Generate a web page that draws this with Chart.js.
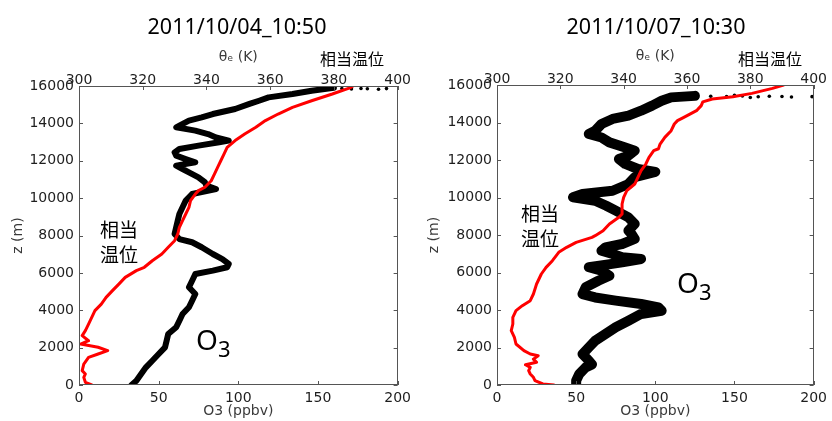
<!DOCTYPE html>
<html>
<head>
<meta charset="utf-8">
<script src="https://cdn.jsdelivr.net/npm/chart.js@4.4.1/dist/chart.umd.min.js"></script>
<style>
  html, body { margin: 0; padding: 0; background: #fff; }
  body { width: 832px; height: 421px; position: relative; overflow: hidden; }
  .panel { position: absolute; top: 0; width: 416px; height: 421px; }
  .panel canvas { filter: blur(0.4px); }
  .t { position: absolute; white-space: nowrap; color: #000; line-height: 1; }
  .c { transform: translate(-50%, -50%); }
  .title { font-family: "Noto Sans", "Open Sans", sans-serif; font-size: 21.5px; }
  .cjk { font-family: "Noto Sans CJK JP", sans-serif; }
  .o3 { font-family: "Noto Sans", "Open Sans", sans-serif; font-size: 28px; }
  .o3 span { font-size: 22px; position: relative; top: 7px; }
</style>
</head>
<body>

<div class="panel" style="left:0"><canvas id="chartA" width="416" height="421"></canvas></div>
<div class="panel" style="left:416px"><canvas id="chartB" width="416" height="421"></canvas></div>

<div class="t c title" id="titleA" style="left:237px;top:26px"></div>
<div class="t c title" id="titleB" style="left:656px;top:26px"></div>
<div class="t c cjk" style="left:352px;top:58px;font-size:16px">相当温位</div>
<div class="t c cjk" style="left:770px;top:58px;font-size:16px">相当温位</div>

<div class="t cjk" style="left:100px;top:216px;font-size:19px;line-height:25px">相当<br>温位</div>
<div class="t cjk" style="left:521px;top:200px;font-size:19px;line-height:25px">相当<br>温位</div>
<div class="t o3" style="left:196px;top:325px">O<span>3</span></div>
<div class="t o3" style="left:677px;top:268px">O<span>3</span></div>

<script>
// Panel headings
const panelTitles = ['2011/10/04_10:50', '2011/10/07_10:30'];

// Axis tick values
const o3Ticks = [0, 50, 100, 150, 200];
const thetaTicks = [300, 320, 340, 360, 380, 400];
const zTicks = [0, 2000, 4000, 6000, 8000, 10000, 12000, 14000, 16000];

// 2011/10/04 10:50 — ozone profile (height m, ppbv)
const zO3A = [0,230,590,945,1300,1660,2016,2370,2730,3090,3440,3800,4160,4510,4870,5230,5580,5940,6120,6300,6480,6740,7010,7370,7640,7810,8080,8440,8800,9150,9510,9870,10220,10490,10670,10850,11110,11380,11560,11740,11920,12090,12270,12450,12630,12810,12990,13080,13250,13430,13610,13790,13880,14150,14320,14500,14770,15040,15210,15390,15570,15750,15900];
const o3A = [33,36,39,42,46,50,54,55,56,61,63,65,69,71,73,69,71,73,84,93,94,90,84,77,71,63,60,61,62,63,65,67,71,86,80,79,75,69,65,61,73,67,61,60,63,75,88,94,86,81,73,61,63,69,77,84,98,107,113,119,134,146,160];
// stray ozone samples near the top of the sounding
const zO3StrayA = [15860,15840,15870,15850,15830,15860];
const o3StrayA = [165,171,177,181,188,193];
// equivalent potential temperature (height m, K)
const zThetaA = [0,143,410,590,770,1120,1480,1660,1840,2020,2190,2370,2640,2910,3260,3620,3980,4330,4690,5050,5400,5760,6120,6300,6650,7010,7370,7720,8080,8440,8800,9150,9510,9870,10220,10400,10580,10930,11290,11650,12000,12360,12720,13080,13430,13790,14150,14500,14860,15210,15570,15900,16000];
const thetaA = [304,302,301.5,302,301,301.5,303,306,309,306,300.5,303,301,302,303,304,305,307,308.5,310.5,312.5,314.5,318,320.5,323,326,328,330,331,331.5,332.5,333.5,334.5,335,336.5,337.5,339.5,341.5,342.5,343.5,344.5,345.5,346.5,349,352,355.5,358.5,362.5,367,373,379.5,385,386];

// 2011/10/07 10:30 — ozone profile
const zO3B = [0,230,590,940,1100,1300,1650,2010,2360,2720,3080,3430,3790,3960,4140,4320,4500,4670,4850,5210,5560,5830,6100,6280,6540,6720,6810,6990,7160,7340,7520,7790,8050,8230,8590,8940,9300,9560,9830,10010,10190,10360,10720,11080,11370,11520,11790,12050,12230,12500,12670,12940,13200,13390,13560,13920,14190,14370,14630,14900,15160,15340,15420];
const o3B = [50,50,52,56,60,58,54,58,62,68.5,75,83,91,104,102,91,75,62,54,56,64,71,66,58,79,91,79,73,66,68.5,79,87,85,83,87,83,75,69,62,48,54,73,83,87,100,89,81,77,83,87,81,71,66,58,62,66,73,83,91,98,104,110,125];
const zO3StrayB = [15400,15380,15420,15370,15400,15390,15360,15380,15450,15330];
const o3StrayB = [135,145,155,165,172,180,186,199,150,160];
// equivalent potential temperature
const zThetaB = [0,53,231,409,587,764,942,1080,1209,1380,1564,1653,1831,2186,2542,2897,3253,3608,3964,4231,4497,4853,5386,5920,6275,6631,7075,7342,7608,7875,7964,8231,8586,8942,9120,9297,9653,10008,10364,10719,11075,11430,11786,12142,12497,12600,12853,13208,13564,13919,14100,14275,14631,14900,15100,15250,15375,15553,15820,16000];
const thetaB = [318,314.5,312,311.5,310.5,310,310.5,309,312.5,311.5,313,310.5,308.5,306,305.5,304.5,305,305,306,308,310.5,311.5,312.5,314,315.5,317.5,319.5,322,325,330,331,333.5,335.5,338.5,339.5,339.5,339.5,340,341,343.5,344.5,345.5,347,348,349.5,351,351.5,353,355,356,357,359,363,364.5,365,368,374.5,380.5,387,390.5];

document.getElementById('titleA').textContent = panelTitles[0];
document.getElementById('titleB').textContent = panelTitles[1];

const pairs = (xs, zs) => zs.map((z, i) => ({ x: xs[i], y: z }));
const fixedTicks = vals => s => { s.ticks = vals.map(v => ({ value: v })); };

// Frame around the plot area with short inward tick marks on every side
const frameTicks = {
  id: 'frameTicks',
  afterDatasetsDraw(chart) {
    const { ctx, chartArea: a, scales } = chart;
    const L = 4;
    ctx.save();
    ctx.strokeStyle = '#555';
    ctx.lineWidth = 1;
    ctx.beginPath();
    scales.x.ticks.forEach(t => {
      const p = Math.round(scales.x.getPixelForValue(t.value)) + 0.5;
      ctx.moveTo(p, a.bottom); ctx.lineTo(p, a.bottom - L);
    });
    scales.xt.ticks.forEach(t => {
      const p = Math.round(scales.xt.getPixelForValue(t.value)) + 0.5;
      ctx.moveTo(p, a.top); ctx.lineTo(p, a.top + L);
    });
    scales.y.ticks.forEach(t => {
      const p = Math.round(scales.y.getPixelForValue(t.value)) + 0.5;
      ctx.moveTo(a.left, p); ctx.lineTo(a.left + L, p);
      ctx.moveTo(a.right, p); ctx.lineTo(a.right - L, p);
    });
    ctx.stroke();
    ctx.strokeRect(Math.round(a.left) + 0.5, Math.round(a.top) + 0.5,
                   Math.round(a.right - a.left) - 1, Math.round(a.bottom - a.top) - 1);
    ctx.restore();
  }
};

const tickFont = { family: 'DejaVu Sans', size: 14 };
const titleFont = { family: 'DejaVu Sans', size: 14 };

function makeProfile(id, p) {
  return new Chart(document.getElementById(id), {
    type: 'line',
    data: {
      datasets: [
        {
          data: pairs(p.theta, p.zTheta), xAxisID: 'xt', yAxisID: 'y',
          borderColor: '#ff0000', borderWidth: 3, pointRadius: 0,
          borderJoinStyle: 'round', borderCapStyle: 'round', order: 0
        },
        {
          data: pairs(p.o3, p.zO3), xAxisID: 'x', yAxisID: 'y',
          borderColor: '#000', borderWidth: p.band, pointRadius: 0,
          borderJoinStyle: 'round', borderCapStyle: 'round', order: 1
        },
        {
          data: pairs(p.o3Stray, p.zStray), xAxisID: 'x', yAxisID: 'y',
          showLine: false, pointRadius: 1.8, pointBackgroundColor: '#000',
          pointBorderWidth: 0, order: 2
        }
      ]
    },
    options: {
      responsive: false, animation: false, devicePixelRatio: 1,
      layout: { padding: p.pad },
      plugins: { legend: { display: false }, tooltip: { enabled: false }, title: { display: false } },
      scales: {
        x: {
          type: 'linear', position: 'bottom', min: 0, max: 200,
          afterBuildTicks: fixedTicks(o3Ticks),
          afterFit: s => { s.height = 36; },
          grid: { display: false, drawTicks: false }, border: { display: false },
          ticks: { font: tickFont, color: '#1e1e1e', padding: 5, maxRotation: 0, callback: v => String(v) },
          title: { display: true, text: 'O3 (ppbv)', font: titleFont, color: '#3a3a3a', padding: { top: 0, bottom: 1 } }
        },
        xt: {
          type: 'linear', position: 'top', min: 300, max: 400,
          afterBuildTicks: fixedTicks(thetaTicks),
          afterFit: s => { s.height = 44; },
          grid: { display: false, drawTicks: false }, border: { display: false },
          ticks: { font: tickFont, color: '#1e1e1e', padding: -3, maxRotation: 0, callback: v => String(v) },
          title: { display: true, text: 'θₑ (K)', font: titleFont, color: '#3a3a3a', padding: { top: 7, bottom: 0 } }
        },
        y: {
          type: 'linear', position: 'left', min: 0, max: 16000,
          afterBuildTicks: fixedTicks(zTicks),
          afterFit: s => { s.width = 71; },
          grid: { display: false, drawTicks: false }, border: { display: false },
          ticks: { font: tickFont, color: '#1e1e1e', padding: 5, callback: v => String(v) },
          title: { display: true, text: 'z (m)', font: titleFont, color: '#3a3a3a', padding: { top: p.yTitlePad, bottom: 0 } }
        }
      }
    },
    plugins: [frameTicks]
  });
}

makeProfile('chartA', {
  zO3: zO3A, o3: o3A, zStray: zO3StrayA, o3Stray: o3StrayA,
  zTheta: zThetaA, theta: thetaA, band: 6, yTitlePad: 2,
  pad: { left: 8, right: 18, top: 42, bottom: 0 }
});
makeProfile('chartB', {
  zO3: zO3B, o3: o3B, zStray: zO3StrayB, o3Stray: o3StrayB,
  zTheta: zThetaB, theta: thetaB, band: 10, yTitlePad: 0,
  pad: { left: 10, right: 14, top: 41, bottom: 0 }
});
</script>
</body>
</html>
